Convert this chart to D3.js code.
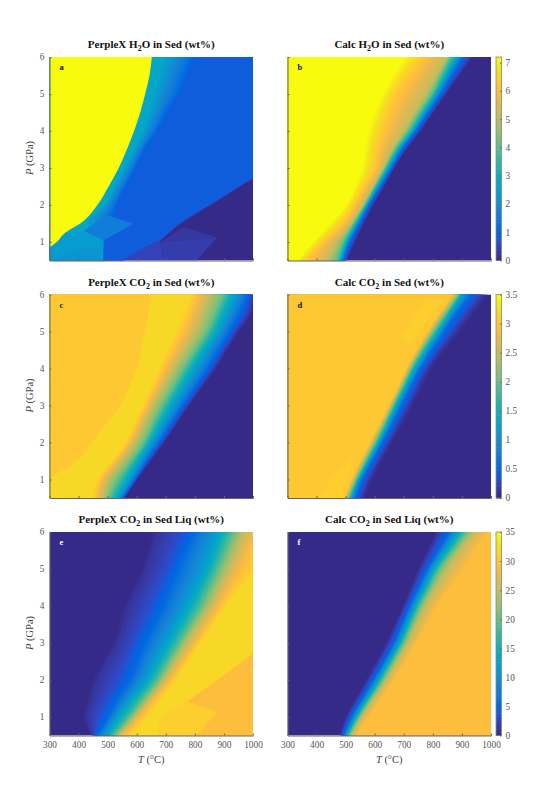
<!DOCTYPE html>
<html>
<head>
<meta charset="utf-8">
<script src="https://cdn.jsdelivr.net/npm/d3@7"></script>
<style>
  body { margin: 0; background: white; }
  text { font-family: "Liberation Serif", serif; }
  .axis text { font-size: 9.3px; fill: #555; font-family: "Liberation Serif", serif; }
  .axis path, .axis line { stroke: #666; }
</style>
</head>
<body>
<svg width="540" height="792"></svg>
<script>
// every panel is a contour table: for each pressure, the temperature (deg C)
// at which the value reaches each level
const pressures = [6, 5.5, 5, 4.5, 4, 3.5, 3, 2.5, 2, 1.5, 1, 0.5]

const tempTicks = [300, 400, 500, 600, 700, 800, 900, 1000]
const pressTicks = [1, 2, 3, 4, 5, 6]

// parula
const parula = ["#352a87","#363093","#3637a0","#353dad","#3243ba","#2c4ac7","#2053d4","#0f5cdd","#0363e1","#0268e1","#046de0","#0871de","#0d75dc","#1079da","#127dd8","#1481d6","#1485d4","#1389d3","#108ed2","#0c93d2","#0998d1","#079ccf","#06a0cd","#06a4ca","#06a7c6","#07a9c2","#0aacbe","#0faeb9","#15b1b4","#1db3af","#25b5a9","#2eb7a4","#38b99e","#42bb98","#4dbc92","#59bd8c","#65be86","#71bf80","#7cbf7b","#87bf77","#92bf73","#9cbf6f","#a5be6b","#aebe67","#b7bd64","#c0bc60","#c8bc5d","#d1bb59","#d9ba56","#e1b952","#e9b94e","#f1b94a","#f8bb44","#fdbe3d","#ffc337","#fec832","#fcce2e","#fad32a","#f7d826","#f5de21","#f5e41d","#f5eb18","#f6f313","#f9fb0e"]

const aLevels = [2.7, 0.85, 0.8, 0]
const aEdges = [
  [692, 807, 1100, 1112],
  [675, 778, 1100, 1112],
  [658, 750, 1100, 1112],
  [640, 710, 1100, 1112],
  [618, 675, 1100, 1112],
  [589, 630, 1100, 1112],
  [555, 600, 1050, 1062],
  [520, 566, 949, 960],
  [486, 535, 848, 858],
  [425, 520, 745, 755],
  [470, 490, 668, 678],
  [465, 490, 549, 559]
]
// flat facets of the PerpleX grid, [T, P] corners
const aFacetValues = [1.6, 2.4, 2.2, 0.5, 0.4, 0.3]
const aFacets = [
  [[417, 1.3], [497, 1.72], [589, 1.49], [486, 1.04]],
  [[300, 0.85], [354, 1.25], [417, 1.3], [486, 1.04], [484, 0.5], [300, 0.5]],
  [[310, 0.5], [420, 0.85], [480, 0.8], [478, 0.5]],
  [[549, 0.5], [670, 1.04], [681, 1], [692, 0.5]],
  [[692, 0.5], [681, 1], [876, 1.13], [807, 0.5]],
  [[681, 1], [761, 1.4], [876, 1.13]]
]
const aPlateauValue = 7.2
const aPlateauP = [6, 5.5, 5, 4.5, 4, 3.5, 3, 2.5, 2, 1.5, 1.25, 1, 0.85]
const aPlateauT = [652, 644, 629, 612, 591, 566, 538, 503, 465, 406, 354, 325, 300]

const bLevels = [7.2, 6.2, 5.2, 4, 3, 1.3, 0]
const bEdges = [
  [700, 768, 848, 860, 877, 900, 940],
  [660, 720, 810, 828, 842, 862, 895],
  [625, 676, 774, 797, 808, 825, 848],
  [597, 650, 735, 755, 767, 782, 805],
  [575, 630, 699, 716, 728, 739, 762],
  [563, 610, 658, 670, 680, 692, 712],
  [553, 600, 628, 636, 644, 656, 670],
  [530, 565, 594, 600, 607, 618, 635],
  [500, 530, 558, 565, 571, 579, 598],
  [445, 490, 518, 528, 536, 546, 565],
  [385, 424, 470, 493, 502, 513, 535],
  [332, 367, 435, 470, 481, 490, 504]
]

const cLevels = [3.2, 2.6, 2, 1.3, 0.6, 0]
const cEdges = [
  [784, 842, 899, 933, 979, 1010],
  [758, 820, 870, 905, 950, 1000],
  [733, 796, 842, 876, 916, 956],
  [703, 758, 801, 835, 878, 915],
  [675, 721, 761, 796, 842, 876],
  [647, 686, 724, 758, 799, 830],
  [618, 652, 687, 721, 756, 784],
  [590, 620, 655, 684, 716, 741],
  [560, 589, 624, 647, 675, 698],
  [512, 545, 580, 608, 632, 650],
  [463, 497, 535, 572, 592, 603],
  [446, 478, 505, 535, 550, 560]
]
const cPlateauValue = 3.05
const cPlateauP = [6, 5.5, 5, 4.5, 4, 3.5, 3, 2.5, 2, 1.5, 1.05]
const cPlateauT = [652, 640, 629, 615, 600, 575, 543, 495, 446, 394, 300]

const dLevels = [3.05, 2, 1.3, 0.6, 0.15, 0]
const dEdges = [
  [866, 889, 900, 929, 975, 998],
  [822, 846, 860, 880, 925, 950],
  [780, 803, 820, 837, 877, 900],
  [742, 762, 778, 795, 828, 850],
  [708, 725, 739, 756, 783, 803],
  [678, 695, 707, 722, 750, 770],
  [647, 663, 675, 690, 718, 736],
  [615, 633, 645, 658, 685, 702],
  [582, 602, 614, 625, 650, 667],
  [550, 568, 578, 590, 615, 632],
  [519, 536, 545, 555, 582, 598],
  [495, 510, 519, 533, 556, 570]
]
const dFacetValues = [3.09, 3.09]
const dFacets = [
  [[400, 0.5], [492, 0.5], [527, 1.6], [447, 0.97]],
  [[688, 4.9], [780, 5.85], [830, 5.85], [720, 4.6]]
]

const eLevels = [0, 0.9, 3.5, 5.5, 12, 19, 25, 28, 32]
const eEdges = [
  [650, 664, 761, 796, 876, 928, 968, 1000, 1060],
  [630, 644, 735, 770, 853, 902, 942, 972, 1030],
  [610, 624, 710, 744, 830, 876, 916, 945, 1015],
  [580, 595, 681, 718, 798, 847, 885, 910, 960],
  [552, 566, 652, 692, 767, 819, 853, 876, 910],
  [530, 545, 622, 660, 732, 781, 813, 836, 867],
  [512, 526, 595, 629, 698, 744, 773, 796, 824],
  [476, 490, 570, 603, 663, 706, 733, 753, 780],
  [443, 457, 543, 578, 629, 669, 695, 710, 738],
  [425, 440, 505, 535, 578, 620, 645, 657, 690],
  [410, 423, 474, 503, 532, 572, 595, 606, 641],
  [440, 446, 454, 462, 492, 520, 538, 549, 583]
]
const eFacetValues = [29.2, 30.8]
const eFacets = [
  [[1000, 2.7], [773, 1.41], [876, 1.14], [807, 0.5], [1000, 0.5]],
  [[773, 1.41], [680, 0.98], [670, 0.5], [807, 0.5], [876, 1.14]]
]

const fLevels = [0, 5, 12, 19, 25, 29.2]
const fEdges = [
  [803, 854, 883, 912, 940, 986],
  [775, 817, 840, 866, 892, 945],
  [745, 780, 799, 820, 848, 906],
  [720, 750, 768, 787, 811, 860],
  [694, 719, 736, 753, 774, 814],
  [665, 692, 709, 725, 743, 780],
  [636, 665, 682, 697, 713, 745],
  [602, 630, 646, 661, 677, 705],
  [567, 594, 610, 625, 640, 665],
  [532, 556, 571, 584, 598, 622],
  [498, 519, 533, 544, 556, 579],
  [476, 493, 502, 511, 522, 539]
]

// colour limits and colourbar ticks for each row of panels
const limits = [7.2, 3.5, 35]
const barTicks = [
  [0, 1, 2, 3, 4, 5, 6, 7],
  [0, 0.5, 1, 1.5, 2, 2.5, 3, 3.5],
  [0, 5, 10, 15, 20, 25, 30, 35]
]

const panels = [
  {letter: "a", title: ["PerpleX H", "2", "O in Sed (wt%)"], levels: aLevels, edges: aEdges, row: 0, col: 0,
   facetValues: aFacetValues, facets: aFacets, plateauValue: aPlateauValue, plateauP: aPlateauP, plateauT: aPlateauT},
  {letter: "b", title: ["Calc H", "2", "O in Sed (wt%)"], levels: bLevels, edges: bEdges, row: 0, col: 1},
  {letter: "c", title: ["PerpleX CO", "2", " in Sed (wt%)"], levels: cLevels, edges: cEdges, row: 1, col: 0,
   plateauValue: cPlateauValue, plateauP: cPlateauP, plateauT: cPlateauT},
  {letter: "d", title: ["Calc CO", "2", " in Sed (wt%)"], levels: dLevels, edges: dEdges, row: 1, col: 1,
   facetValues: dFacetValues, facets: dFacets},
  {letter: "e", title: ["PerpleX CO", "2", " in Sed Liq (wt%)"], levels: eLevels, edges: eEdges, row: 2, col: 0,
   facetValues: eFacetValues, facets: eFacets},
  {letter: "f", title: ["Calc CO", "2", " in Sed Liq (wt%)"], levels: fLevels, edges: fEdges, row: 2, col: 1}
]

// layout
const lefts = [49.5, 287.5]
const tops = [57, 294.5, 532]
const plotW = 203.5
const plotH = 203.5
const barX = 496
const barW = 5.5

const svg = d3.select("svg")

const drawPanel = function(panel) {
    const left = lefts[panel.col]
    const top = tops[panel.row]
    const limit = limits[panel.row]

    const scaleT = d3.scaleLinear().domain([300, 1000]).range([left, left + plotW])
    const scaleP = d3.scaleLinear().domain([0.5, 6]).range([top + plotH, top])
    const scaleC = d3.scaleQuantize().domain([0, limit]).range(parula)

    const clipId = "clip-" + panel.letter
    svg.append("clipPath")
        .attr("id", clipId)
        .append("rect")
        .attr("x", left)
        .attr("y", top)
        .attr("width", plotW)
        .attr("height", plotH)

    const group = svg.append("g").attr("clip-path", `url(#${clipId})`)

    group.append("rect")
        .attr("x", left)
        .attr("y", top)
        .attr("width", plotW)
        .attr("height", plotH)
        .attr("fill", parula[0])

    // levels run down in the H2O/CO2 solid panels and up in the liquid panels
    const rising = panel.levels[0] < panel.levels[panel.levels.length - 1]
    const topLevel = d3.max(panel.levels)

    // one filled contour for each colour of the map, lowest first
    const bands = parula
        .map((color, k) => ({color: color, level: k * limit / 64}))
        .filter(d => d.level > 0 && d.level <= topLevel)

    const bandArea = d3.area()
        .y(d => scaleP(d.p))
        .x0(d => rising ? scaleT(d.t) : left)
        .x1(d => rising ? left + plotW : scaleT(d.t))
        .curve(d3.curveMonotoneY)

    group.selectAll("path.band")
        .data(bands)
        .enter()
        .append("path")
        .attr("class", "band")
        .attr("fill", d => d.color)
        .attr("d", d => {
            const points = panel.edges.map((row, j) => {
                const edge = d3.scaleLinear().domain(panel.levels).range(row).clamp(true)
                return {p: pressures[j], t: edge(d.level)}
            })
            return bandArea(points)
        })

    if (panel.facets) {
        const facetLine = d3.line()
            .x(d => scaleT(d[0]))
            .y(d => scaleP(d[1]))
            .curve(d3.curveLinearClosed)
        group.selectAll("path.facet")
            .data(panel.facets)
            .enter()
            .append("path")
            .attr("class", "facet")
            .attr("d", facetLine)
            .attr("fill", (d, j) => scaleC(panel.facetValues[j]))
    }

    if (panel.plateauP) {
        const plateau = panel.plateauP.map((p, j) => ({p: p, t: panel.plateauT[j]}))
        const plateauArea = d3.area()
            .y(d => scaleP(d.p))
            .x0(left)
            .x1(d => scaleT(d.t))
            .curve(d3.curveMonotoneY)
        group.append("path")
            .datum(plateau)
            .attr("d", plateauArea)
            .attr("fill", scaleC(panel.plateauValue))
    }

    // axes
    const axisX = d3.axisBottom(scaleT)
        .tickValues(tempTicks)
        .tickFormat(d3.format("d"))
        .tickSizeInner(-2)
        .tickSizeOuter(0)
        .tickPadding(6)
    const axisXGroup = svg.append("g")
        .attr("class", "axis")
        .attr("transform", `translate(0, ${top + plotH})`)
        .call(axisX)
    if (panel.row < 2) {
        axisXGroup.selectAll("text").remove()
    }

    const axisY = d3.axisLeft(scaleP)
        .tickValues(pressTicks)
        .tickFormat(d3.format("d"))
        .tickSizeInner(-2)
        .tickSizeOuter(0)
        .tickPadding(5)
    const axisYGroup = svg.append("g")
        .attr("class", "axis")
        .attr("transform", `translate(${left}, 0)`)
        .call(axisY)
    if (panel.col > 0) {
        axisYGroup.selectAll("text").remove()
    }

    // title with subscript
    const title = svg.append("text")
        .attr("x", left + plotW / 2)
        .attr("y", top - 9)
        .attr("text-anchor", "middle")
        .attr("font-size", 11)
        .attr("font-weight", "bold")
        .attr("fill", "#111")
    title.append("tspan").text(panel.title[0])
    title.append("tspan").attr("dy", 3).attr("font-size", 8).text(panel.title[1])
    title.append("tspan").attr("dy", -3).text(panel.title[2])

    svg.append("text")
        .attr("x", left + 10)
        .attr("y", top + 13)
        .attr("font-size", 8.5)
        .attr("font-weight", "bold")
        .attr("fill", panel.row === 2 ? "#fff" : "#111")
        .text(panel.letter)

    if (panel.col === 0) {
        const labelP = svg.append("text")
            .attr("transform", `translate(33, ${top + 101}) rotate(-90)`)
            .attr("text-anchor", "middle")
            .attr("font-size", 10.5)
            .attr("fill", "#444")
        labelP.append("tspan").attr("font-style", "italic").text("P")
        labelP.append("tspan").text(" (GPa)")
    }

    if (panel.row === 2) {
        const labelT = svg.append("text")
            .attr("x", left + plotW / 2)
            .attr("y", top + plotH + 27)
            .attr("text-anchor", "middle")
            .attr("font-size", 10.5)
            .attr("fill", "#444")
        labelT.append("tspan").attr("font-style", "italic").text("T")
        labelT.append("tspan").text(" (\u00b0C)")
    }

    // colourbar on the right column
    if (panel.col === 1) {
        const scaleBar = d3.scaleLinear().domain([0, limit]).range([top + plotH, top])
        svg.append("g")
            .selectAll("rect")
            .data(parula)
            .enter()
            .append("rect")
            .attr("x", barX)
            .attr("y", (d, j) => scaleBar((j + 1) * limit / 64))
            .attr("width", barW)
            .attr("height", plotH / 64 + 0.5)
            .attr("fill", d => d)
        svg.append("rect")
            .attr("x", barX)
            .attr("y", top)
            .attr("width", barW)
            .attr("height", plotH)
            .attr("fill", "none")
            .attr("stroke", "#888")
            .attr("stroke-width", 0.8)
        const axisBar = d3.axisRight(scaleBar)
            .tickValues(barTicks[panel.row])
            .tickFormat(d => String(d))
            .tickSizeInner(-1.5)
            .tickSizeOuter(0)
            .tickPadding(4)
        svg.append("g")
            .attr("class", "axis")
            .attr("transform", `translate(${barX + barW}, 0)`)
            .call(axisBar)
            .call(g => g.select(".domain").remove())
    }
}

panels.forEach(drawPanel)
</script>
</body>
</html>
